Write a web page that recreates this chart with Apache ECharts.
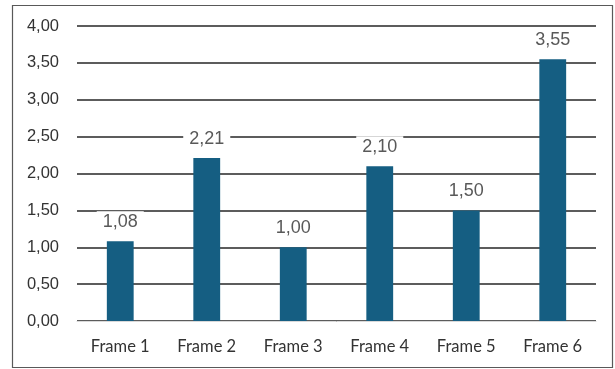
<!DOCTYPE html>
<html><head><meta charset="utf-8">
<script src="https://cdn.jsdelivr.net/npm/echarts@6/dist/echarts.min.js"></script>
<style>html,body{margin:0;padding:0;background:#fff}#c{width:615px;height:369px}</style>
</head><body><div id="c"></div>
<script>
const categories = ['Frame 1','Frame 2','Frame 3','Frame 4','Frame 5','Frame 6'];
const values = [1.08, 2.21, 1.00, 2.10, 1.50, 3.55];
const yMin = 0, yMax = 4, yStep = 0.5;
const fmt = v => v.toFixed(2).replace('.', ',');
const chart = echarts.init(document.getElementById('c'));
chart.setOption({
  animation: false,
  graphic: [{type:'rect', shape:{x:12.5,y:5.5,width:600,height:362}, style:{fill:'none', stroke:'#595959', lineWidth:1.2}, z:-1}],
  grid: {left:77, right:19, top:26, bottom:48},
  xAxis: {
    type:'category', data: categories,
    axisLine:{show:true, lineStyle:{color:'#d9d9d9', width:1}},
    axisTick:{show:false},
    axisLabel:{color:'#333333', fontSize:16.5, fontFamily:'Lato, "Noto Sans", sans-serif', margin:17}
  },
  yAxis: {
    type:'value', min:yMin, max:yMax, interval:yStep,
    axisLine:{show:false}, axisTick:{show:false},
    axisLabel:{color:'#333333', fontSize:16.5, fontFamily:'"Liberation Sans", Arial, sans-serif', margin:18, formatter: v => fmt(v)},
    splitLine:{lineStyle:{color:'#262626', width:1.5}}
  },
  series: [{
    type:'bar', data: values, barWidth:'31%',
    itemStyle:{color:'#155e82'},
    label:{show:true, position:'top', distance:8, color:'#595959', fontSize:18,
      fontFamily:'"Liberation Sans", Arial, sans-serif',
      backgroundColor:'#fff', padding:[2,6],
      formatter: p => fmt(p.value)}
  }]
});
</script></body></html>
